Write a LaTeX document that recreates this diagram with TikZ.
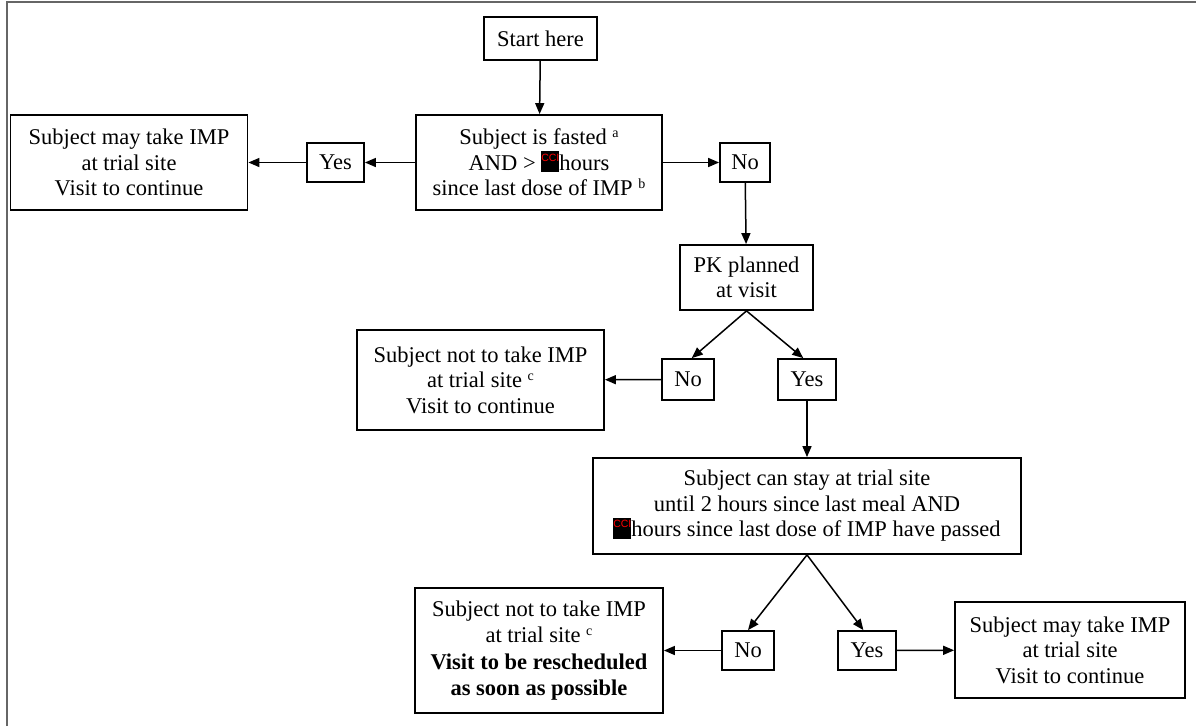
\documentclass[tikz,border=0pt]{standalone}
\usepackage{fontspec}
\setmainfont{Liberation Serif}
\newfontfamily\ccifont{Liberation Sans}
\usetikzlibrary{arrows.meta}
\newcommand{\ccimark}{\raisebox{-2pt}{\rlap{\rule{18pt}{21pt}}\raisebox{11pt}{\makebox[18pt][c]{\ccifont\fontsize{10.5}{10.5}\selectfont\textcolor{red}{CCI}}}}}
\newcommand{\supx}[1]{\raisebox{7pt}{\fontsize{14}{14}\selectfont #1}}
\begin{document}
\begin{tikzpicture}[x=1pt,y=-1pt,
  box/.style={draw, line width=1.8pt, align=center, inner sep=0pt,
    font=\fontsize{22.5}{25.5}\selectfont},
  arr/.style={line width=1.5pt, -{Triangle[length=11pt,width=9pt]}},
  frame/.style={draw=gray!80!black, line width=2pt}]
\useasboundingbox (0,0) rectangle (1196,726);
\draw[frame] (6.5,726) -- (6.5,1.5) -- (1196,1.5);

\node[box, minimum width=113, minimum height=43] (start) at (540.5,38.5) {Start here};
\node[box, minimum width=246, minimum height=95] (fasted) at (539,162.5)
  {Subject is fasted \supx{a}\\AND > \ccimark hours\\since last dose of IMP \supx{b}};
\node[box, minimum width=57, minimum height=39] (yes1) at (335.5,162.5) {Yes};
\node[box, minimum width=237, minimum height=95] (res1) at (129,162.5)
  {Subject may take IMP\\at trial site\\Visit to continue};
\node[box, minimum width=50, minimum height=39] (no1) at (745,162.5) {No};
\node[box, minimum width=133, minimum height=65] (pk) at (746.5,277.5) {PK planned\\at visit};
\node[box, minimum width=52, minimum height=41] (no2) at (688,379.5) {No};
\node[box, minimum width=58, minimum height=41] (yes2) at (807,379.5) {Yes};
\node[box, minimum width=247, minimum height=100] (res2) at (480.5,380)
  {Subject not to take IMP\\at trial site \supx{c}\\Visit to continue};
\node[box, minimum width=428, minimum height=96] (big) at (807,506)
  {Subject can stay at trial site\\until 2 hours since last meal AND\\\ccimark hours since last dose of IMP have passed};
\node[box, minimum width=52, minimum height=39] (no3) at (748,650.5) {No};
\node[box, minimum width=58, minimum height=39] (yes3) at (867,650.5) {Yes};
\node[box, minimum width=248, minimum height=125, font=\fontsize{22.5}{26.5}\selectfont] (res3) at (539,650.5)
  {Subject not to take IMP\\at trial site \supx{c}\\\textbf{Visit to be rescheduled}\\\textbf{as soon as possible}};
\node[box, minimum width=230, minimum height=96] (res4) at (1070,650)
  {Subject may take IMP\\at trial site\\Visit to continue};

\draw[arr] (start) -- (fasted);
\draw[arr] (fasted) -- (yes1);
\draw[arr] (yes1) -- (res1);
\draw[arr] (fasted) -- (no1);
\draw[arr] (no1) -- (pk);
\draw[arr] (pk.south) -- (no2.80);
\draw[arr] (pk.south) -- (yes2.100);
\draw[arr] (no2) -- (res2);
\draw[arr] (yes2) -- (big);
\draw[arr] (big.south) -- (no3.north);
\draw[arr] (big.south) -- (yes3.100);
\draw[arr] (no3) -- (res3);
\draw[arr] (yes3) -- (res4);
\end{tikzpicture}
\end{document}
